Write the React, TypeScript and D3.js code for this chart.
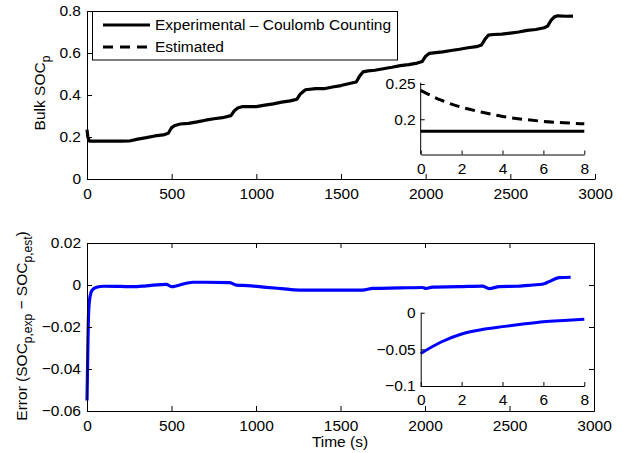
import React, { useEffect, useRef } from 'react';
import * as d3 from 'd3';

// main SOC trace (experimental, coulomb counting)
const socTime = [0, 5, 15, 100, 200, 250, 300, 350, 400, 450, 480, 500, 520, 550, 600, 650, 700, 750, 800, 850, 870, 890, 920, 1000, 1050, 1100, 1150, 1200, 1240, 1260, 1290, 1350, 1400, 1450, 1500, 1550, 1590, 1610, 1630, 1660, 1700, 1750, 1800, 1850, 1900, 1950, 1980, 2000, 2020, 2060, 2100, 2150, 2200, 2250, 2300, 2330, 2350, 2370, 2400, 2450, 2500, 2550, 2600, 2650, 2700, 2720, 2740, 2760, 2780, 2830, 2870];
const socValue = [0.235, 0.2, 0.18, 0.18, 0.18, 0.181, 0.19, 0.197, 0.205, 0.21, 0.218, 0.245, 0.255, 0.262, 0.265, 0.272, 0.28, 0.287, 0.292, 0.302, 0.325, 0.338, 0.345, 0.345, 0.352, 0.358, 0.366, 0.372, 0.38, 0.405, 0.425, 0.43, 0.43, 0.438, 0.445, 0.455, 0.462, 0.49, 0.51, 0.515, 0.518, 0.525, 0.532, 0.54, 0.545, 0.552, 0.56, 0.585, 0.598, 0.602, 0.605, 0.612, 0.618, 0.625, 0.63, 0.638, 0.665, 0.685, 0.688, 0.69, 0.695, 0.7, 0.708, 0.712, 0.72, 0.728, 0.755, 0.772, 0.777, 0.775, 0.776];

// zoom of first 8 s
const insetTime = [0, 1, 2, 3, 4, 5, 6, 7, 8];
const insetExp = [0.183, 0.183, 0.183, 0.183, 0.183, 0.183, 0.183, 0.183, 0.183];
const insetEst = [0.241, 0.227, 0.217, 0.21, 0.204, 0.2, 0.197, 0.195, 0.1935];
const insetErr = [-0.0556, -0.04, -0.029, -0.023, -0.019, -0.0155, -0.0123, -0.0105, -0.009];

// error trace
const errTime = [0, 5, 10, 18, 30, 57, 100, 200, 272, 350, 470, 500, 520, 549, 627, 700, 845, 884, 950, 1061, 1150, 1258, 1400, 1630, 1690, 1850, 1985, 2006, 2045, 2200, 2340, 2380, 2439, 2550, 2636, 2700, 2734, 2793, 2862];
const errValue = [-0.055, -0.03, -0.012, -0.0055, -0.0025, -0.0011, -0.0006, -0.0007, -0.0008, -0.0004, 0.0003, -0.0008, -0.0006, 0.0, 0.0013, 0.0013, 0.0011, -0.0001, -0.0003, -0.0011, -0.0017, -0.0024, -0.0024, -0.0024, -0.0016, -0.0014, -0.0012, -0.0016, -0.001, -0.0008, -0.0005, -0.0017, -0.0008, -0.0006, 0.0, 0.0005, 0.0016, 0.0035, 0.0037];

const timeTicks = [0, 500, 1000, 1500, 2000, 2500, 3000];
const socTicks = [0, 0.2, 0.4, 0.6, 0.8];
const errTicks = [-0.06, -0.04, -0.02, 0, 0.02];
const insetXTicks = [0, 2, 4, 6, 8];
const insetSocTicks = [0.2, 0.25];
const insetErrTicks = [-0.1, -0.05, 0];
const legendLabels = ['Experimental \u2013 Coulomb Counting', 'Estimated'];

const FONT = '"Liberation Sans", Arial, Helvetica, sans-serif';
const FS = 15.5;
const SUB = 12;

function styleAxis(g: any) {
  g.selectAll('path.domain').attr('stroke', '#000').attr('stroke-width', 1);
  g.selectAll('line').attr('stroke', '#000').attr('stroke-width', 1);
  g.selectAll('text').attr('font-family', FONT).attr('font-size', FS).attr('fill', '#000');
}

const num = (v: number) => d3.format('')(+v.toFixed(4)).replace('-', '\u2212');

export default function App() {
  const ref = useRef<SVGSVGElement>(null);

  useEffect(() => {
    const svg = d3.select(ref.current);
    svg.selectAll('*').remove();

    // ---------- top plot ----------
    const x1 = d3.scaleLinear().domain([0, 3000]).range([87, 595]);
    const y1 = d3.scaleLinear().domain([0, 0.8]).range([179, 11]);

    svg.append('path')
      .datum(socTime.map((t, i) => [t, socValue[i]]))
      .attr('d', d3.line().x((d: any) => x1(d[0])).y((d: any) => y1(d[1])) as any)
      .attr('fill', 'none').attr('stroke', '#000').attr('stroke-width', 3.2).attr('stroke-linejoin', 'round');

    const gx1 = svg.append('g').attr('transform', 'translate(0,179)')
      .call(d3.axisBottom(x1).tickValues(timeTicks).tickSizeInner(-5).tickSizeOuter(0).tickPadding(9).tickFormat(num as any));
    styleAxis(gx1);
    const gy1 = svg.append('g').attr('transform', 'translate(87,0)')
      .call(d3.axisLeft(y1).tickValues(socTicks).tickSizeInner(-5).tickSizeOuter(0).tickPadding(6).tickFormat(num as any));
    styleAxis(gy1);

    const yl1 = svg.append('text').attr('transform', 'translate(45,93) rotate(-90)')
      .attr('text-anchor', 'middle').attr('font-family', FONT).attr('font-size', FS);
    yl1.append('tspan').text('Bulk SOC');
    yl1.append('tspan').attr('dy', 5).attr('font-size', SUB).text('p');

    // legend
    const lg = svg.append('g');
    lg.append('rect').attr('x', 92.5).attr('y', 11.5).attr('width', 305).attr('height', 48.5)
      .attr('fill', '#fff').attr('stroke', '#000').attr('stroke-width', 1);
    legendLabels.forEach((lab, i) => {
      const yy = 25 + i * 22;
      lg.append('line').attr('x1', 103).attr('x2', 150).attr('y1', yy).attr('y2', yy)
        .attr('stroke', '#000').attr('stroke-width', 3)
        .attr('stroke-dasharray', i === 1 ? '10,7' : null);
      lg.append('text').attr('x', 155).attr('y', yy).attr('dy', '0.35em')
        .attr('font-family', FONT).attr('font-size', FS).text(lab);
    });

    // top inset
    const xi = d3.scaleLinear().domain([0, 8]).range([420.7, 584.3]);
    const yi1 = d3.scaleLinear().domain([0.15, 0.25]).range([154.5, 84]);
    svg.append('rect').attr('x', 420.7).attr('y', 84).attr('width', 163.6).attr('height', 70.5).attr('fill', '#fff');
    const li1 = d3.line().x((d: any) => xi(d[0])).y((d: any) => yi1(d[1]));
    svg.append('path').datum(insetTime.map((t, i) => [t, insetExp[i]]))
      .attr('d', li1 as any).attr('fill', 'none').attr('stroke', '#000').attr('stroke-width', 3);
    svg.append('path').datum(insetTime.map((t, i) => [t, insetEst[i]]))
      .attr('d', d3.line().curve(d3.curveMonotoneX).x((d: any) => xi(d[0])).y((d: any) => yi1(d[1])) as any)
      .attr('fill', 'none').attr('stroke', '#000').attr('stroke-width', 3).attr('stroke-dasharray', '10,6');
    const gxi1 = svg.append('g').attr('transform', 'translate(0,154.5)')
      .call(d3.axisBottom(xi).tickValues(insetXTicks).tickSizeInner(-4).tickSizeOuter(0).tickPadding(8));
    styleAxis(gxi1);
    const gyi1 = svg.append('g').attr('transform', 'translate(420.7,0)')
      .call(d3.axisLeft(yi1).tickValues(insetSocTicks).tickSizeInner(-4).tickSizeOuter(0).tickPadding(5).tickFormat(num as any));
    styleAxis(gyi1);
    gyi1.select('path.domain').attr('d', `M0,${yi1(0.15)}V${yi1(0.252)}`);

    // ---------- bottom plot ----------
    const x2 = d3.scaleLinear().domain([0, 3000]).range([87, 594]);
    const y2 = d3.scaleLinear().domain([-0.06, 0.02]).range([411, 243]);

    svg.append('path')
      .datum(errTime.map((t, i) => [t, errValue[i]]))
      .attr('d', d3.line().curve(d3.curveMonotoneX).x((d: any) => x2(d[0])).y((d: any) => y2(d[1])) as any)
      .attr('fill', 'none').attr('stroke', '#0000ff').attr('stroke-width', 3.2).attr('stroke-linejoin', 'round');

    const gx2 = svg.append('g').attr('transform', 'translate(0,411)')
      .call(d3.axisBottom(x2).tickValues(timeTicks).tickSizeInner(-5).tickSizeOuter(0).tickPadding(9).tickFormat(num as any));
    styleAxis(gx2);
    const gx2t = svg.append('g').attr('transform', 'translate(0,243)')
      .call(d3.axisTop(x2).tickValues(timeTicks).tickSizeInner(-5).tickSizeOuter(0).tickFormat(() => ''));
    styleAxis(gx2t);
    const gy2 = svg.append('g').attr('transform', 'translate(87,0)')
      .call(d3.axisLeft(y2).tickValues(errTicks).tickSizeInner(-5).tickSizeOuter(0).tickPadding(6).tickFormat(num as any));
    styleAxis(gy2);
    const gy2r = svg.append('g').attr('transform', 'translate(594,0)')
      .call(d3.axisRight(y2).tickValues(errTicks).tickSizeInner(-5).tickSizeOuter(0).tickFormat(() => ''));
    styleAxis(gy2r);

    const yl2 = svg.append('text').attr('transform', 'translate(27,326) rotate(-90)')
      .attr('text-anchor', 'middle').attr('font-family', FONT).attr('font-size', FS);
    yl2.append('tspan').text('Error (SOC');
    yl2.append('tspan').attr('dy', 5).attr('font-size', SUB).text('p,exp');
    yl2.append('tspan').attr('dy', -5).text(' \u2212 SOC');
    yl2.append('tspan').attr('dy', 5).attr('font-size', SUB).text('p,est');
    yl2.append('tspan').attr('dy', -5).text(')');

    svg.append('text').attr('x', 340).attr('y', 447).attr('text-anchor', 'middle')
      .attr('font-family', FONT).attr('font-size', FS).text('Time (s)');

    // bottom inset
    const yi2 = d3.scaleLinear().domain([-0.1, 0]).range([386, 312.7]);
    svg.append('rect').attr('x', 420.7).attr('y', 312.7).attr('width', 163.6).attr('height', 73.3).attr('fill', '#fff');
    svg.append('path').datum(insetTime.map((t, i) => [t, insetErr[i]]))
      .attr('d', d3.line().curve(d3.curveMonotoneX).x((d: any) => xi(d[0])).y((d: any) => yi2(d[1])) as any)
      .attr('fill', 'none').attr('stroke', '#0000ff').attr('stroke-width', 3);
    const gxi2 = svg.append('g').attr('transform', 'translate(0,386)')
      .call(d3.axisBottom(xi).tickValues(insetXTicks).tickSizeInner(-4).tickSizeOuter(0).tickPadding(8));
    styleAxis(gxi2);
    const gyi2 = svg.append('g').attr('transform', 'translate(420.7,0)')
      .call(d3.axisLeft(yi2).tickValues(insetErrTicks).tickSizeInner(-4).tickSizeOuter(0).tickPadding(5).tickFormat(num as any));
    styleAxis(gyi2);
  }, []);

  return (
    <div style={{ position: 'absolute', left: 0, top: 0 }}>
      <svg ref={ref} width={623} height={453} style={{ display: 'block', background: '#fff' }} />
    </div>
  );
}
